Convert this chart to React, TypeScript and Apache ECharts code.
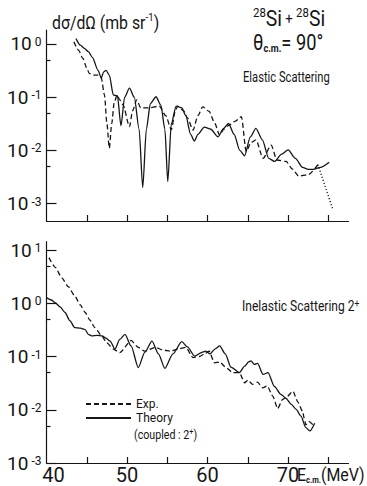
import React, { useEffect, useRef } from "react";
import * as echarts from "echarts";

// ---------- Data (E_cm in MeV, dσ/dΩ in mb/sr) ----------
const elasticTheoryE = [43.66, 44.2, 44.7, 45.2, 45.7, 46.4, 46.8, 47.1, 47.4, 47.8, 48.3, 48.8, 49.25, 49.7, 50.3, 50.9, 51.5, 51.95, 52.4, 52.9, 53.6, 54.2, 54.7, 55.06, 55.5, 56.1, 56.8, 57.3, 57.9, 58.36, 58.8, 59.6, 60.4, 61.3, 62.0, 62.6, 63.3, 64.0, 64.6, 65.3, 66.0, 66.8, 67.6, 68.3, 69.2, 70.0, 70.9, 71.8, 72.5, 73.1, 74.0, 75.1];
const elasticTheory = [1.26, 0.95, 0.83, 0.72, 0.56, 0.32, 0.23, 0.3, 0.32, 0.26, 0.11, 0.107, 0.029, 0.1, 0.148, 0.1, 0.025, 0.002, 0.025, 0.076, 0.102, 0.071, 0.025, 0.0026, 0.032, 0.068, 0.063, 0.045, 0.02, 0.015, 0.02, 0.0275, 0.025, 0.018, 0.026, 0.032, 0.02, 0.01, 0.0079, 0.0178, 0.026, 0.0158, 0.0071, 0.0062, 0.0085, 0.0102, 0.0071, 0.0048, 0.0044, 0.0044, 0.0048, 0.006];

const elasticExpE = [43.4, 44.0, 44.5, 45.0, 45.3, 45.8, 46.4, 46.8, 47.2, 47.5, 47.8, 48.1, 48.4, 48.76, 49.1, 49.5, 50.3, 50.7, 51.2, 51.7, 52.8, 54.0, 54.8, 55.5, 56.0, 56.3, 57.0, 57.5, 58.2, 58.8, 59.4, 60.2, 60.8, 61.5, 62.0, 62.7, 63.4, 64.2, 64.8, 65.4, 66.0, 66.9, 67.9, 68.6, 69.75, 70.5, 71.3, 72.5, 73.7];
const elasticExp = [1.1, 0.76, 0.54, 0.355, 0.28, 0.26, 0.26, 0.23, 0.11, 0.032, 0.011, 0.032, 0.078, 0.11, 0.089, 0.072, 0.028, 0.056, 0.089, 0.063, 0.063, 0.068, 0.045, 0.0245, 0.056, 0.068, 0.056, 0.041, 0.024, 0.045, 0.066, 0.054, 0.035, 0.0195, 0.025, 0.03, 0.035, 0.043, 0.0095, 0.014, 0.0158, 0.0071, 0.0126, 0.0066, 0.0062, 0.0045, 0.0033, 0.0035, 0.0054];

const elasticExpTailE = [73.7, 75.55];
const elasticExpTail = [0.0054, 0.00078];

const inelTheoryE = [40.0, 40.6, 41.05, 41.7, 42.3, 42.9, 43.5, 44.2, 44.8, 45.2, 45.6, 46.3, 46.9, 47.4, 47.9, 48.5, 49.1, 49.75, 50.5, 51.4, 52.2, 53.1, 53.9, 54.7, 55.7, 56.8, 57.5, 58.4, 59.3, 59.8, 60.3, 61.0, 61.5, 62.2, 62.9, 63.95, 64.6, 65.1, 65.4, 65.8, 66.2, 66.9, 67.5, 68.3, 69.1, 69.7, 70.4, 71.0, 71.6, 72.2, 72.7, 73.3];
const inelTheory = [1.28, 1.15, 1.03, 0.85, 0.67, 0.47, 0.35, 0.34, 0.32, 0.26, 0.245, 0.25, 0.245, 0.22, 0.195, 0.138, 0.21, 0.26, 0.158, 0.062, 0.12, 0.195, 0.112, 0.06, 0.112, 0.19, 0.151, 0.102, 0.12, 0.126, 0.112, 0.141, 0.158, 0.112, 0.063, 0.05, 0.066, 0.079, 0.083, 0.071, 0.074, 0.046, 0.05, 0.0275, 0.0195, 0.0166, 0.0126, 0.0102, 0.0076, 0.0046, 0.004, 0.0056];

const inelExpE = [40.3, 41.1, 41.9, 42.7, 43.5, 44.2, 44.8, 45.4, 46.0, 46.8, 47.5, 48.3, 49.1, 50.5, 51.4, 52.2, 53.5, 54.5, 55.5, 56.4, 57.3, 58.2, 59.0, 59.6, 60.2, 60.85, 61.5, 62.3, 63.1, 63.95, 64.6, 65.0, 65.6, 66.2, 66.85, 67.4, 68.1, 68.7, 69.3, 69.9, 70.6, 71.2, 71.8, 72.0, 72.2, 72.6, 73.1];
const inelExp = [7.2, 4.7, 3.0, 2.05, 1.38, 0.93, 0.67, 0.48, 0.35, 0.25, 0.18, 0.138, 0.118, 0.2, 0.148, 0.126, 0.148, 0.132, 0.126, 0.14, 0.148, 0.095, 0.1, 0.112, 0.126, 0.076, 0.079, 0.062, 0.05, 0.05, 0.032, 0.036, 0.03, 0.033, 0.0257, 0.028, 0.018, 0.0105, 0.0155, 0.0178, 0.0224, 0.014, 0.0093, 0.0069, 0.0052, 0.006, 0.0052];

const xTickValues = [45, 50, 55, 60, 65, 70, 75];
const xLabelValues = [40, 50, 60, 70];
const topMajorExp = [-3, -2, -1, 0];
const topMinorVals = [0.5, 0.05, 0.005];
const botMajorExp = [-3, -2, -1, 0, 1];
const botMinorVals = [5, 0.5, 0.05, 0.005];

const FONT = 'Roboto, "Liberation Sans", "DejaVu Sans", sans-serif';
const INK = "#151515";

const toPts = (xs: number[], ys: number[]) => xs.map((x, i) => [x, Math.log10(ys[i])]);

function makeX(gridIndex: number, labels: boolean) {
  return {
    type: "value",
    gridIndex,
    min: 40,
    max: 77.5,
    axisLine: { show: true, onZero: false, lineStyle: { color: INK, width: 1.2 } },
    axisTick: { show: true, inside: true, length: 6, customValues: xTickValues, lineStyle: { color: INK, width: 1.2 } },
    axisLabel: labels
      ? {
          show: true,
          customValues: xLabelValues,
          margin: 5,
          color: INK,
          fontFamily: FONT,
          fontSize: 20,
          lineHeight: 14,
          formatter: (v: number) => (v === 40 ? "{f|40}" : String(v)),
          rich: { f: { fontFamily: FONT, fontSize: 20, lineHeight: 14, color: INK, padding: [0, 0, 0, 14] } },
        }
      : { show: false },
    splitLine: { show: false },
  };
}

function makeYMajor(gridIndex: number, min: number, max: number, exps: number[]) {
  return {
    type: "value",
    gridIndex,
    min,
    max,
    axisLine: { show: true, onZero: false, lineStyle: { color: INK, width: 1.2 } },
    axisTick: { show: true, inside: true, length: 10, customValues: exps, lineStyle: { color: INK, width: 1.2 } },
    axisLabel: {
      show: true,
      customValues: exps,
      margin: 5,
      formatter: (v: number) => `{b|10}{s|${Math.round(v)}}`,
      rich: {
        b: { fontFamily: FONT, fontSize: 19, color: INK, lineHeight: 16 },
        s: { fontFamily: FONT, fontSize: 12, color: INK, lineHeight: 6, verticalAlign: "top", padding: [0, 0, 0, 3] },
      },
    },
    splitLine: { show: false },
  };
}

function makeYMinor(gridIndex: number, min: number, max: number, vals: number[]) {
  return {
    type: "value",
    gridIndex,
    min,
    max,
    position: "left",
    axisLine: { show: false },
    axisTick: { show: true, inside: true, length: 4, customValues: vals.map((v) => Math.log10(v)), lineStyle: { color: INK, width: 1.2 } },
    axisLabel: { show: false },
    splitLine: { show: false },
  };
}

function lineSeries(name: string, x: number, y: number, data: number[][], type: any, smooth: number) {
  return {
    name,
    type: "line",
    xAxisIndex: x,
    yAxisIndex: y,
    data,
    symbol: "none",
    showSymbol: false,
    smooth,
    smoothMonotone: "x",
    lineStyle: { color: INK, width: 1.3, type },
    itemStyle: { color: INK },
    z: 3,
  };
}

function label(x: number, y: number, text: string, rich: any, scaleX: number) {
  return {
    type: "text",
    x,
    y,
    scaleX,
    style: { text, rich, verticalAlign: "top", align: "left", fill: INK },
  };
}

export default function App() {
  const ref = useRef<HTMLDivElement>(null);
  useEffect(() => {
    if (!ref.current) return;
    const chart = echarts.init(ref.current, undefined, { renderer: "svg" });
    const option: any = {
      animation: false,
      backgroundColor: "#ffffff",
      textStyle: { fontFamily: FONT, color: INK },
      grid: [
        { left: 46.5, top: 30, width: 302, height: 191, containLabel: false },
        { left: 46.5, top: 241.7, width: 302, height: 221.3, containLabel: false },
      ],
      xAxis: [makeX(0, false), makeX(1, true)],
      yAxis: [
        makeYMajor(0, -3.327, 0.263, topMajorExp),
        makeYMinor(0, -3.327, 0.263, topMinorVals),
        makeYMajor(1, -3, 1.156, botMajorExp),
        makeYMinor(1, -3, 1.156, botMinorVals),
      ],
      legend: {
        data: ["Exp.", "Theory"],
        orient: "vertical",
        left: 85,
        top: 398,
        itemWidth: 45,
        itemHeight: 12,
        itemGap: 2,
        padding: 0,
        selectedMode: false,
        itemStyle: { opacity: 0 },
        textStyle: { fontFamily: FONT, fontSize: 12, lineHeight: 12, color: INK },
      },
      graphic: [
        label(52, 12, "{a|dσ/dΩ (mb sr}{s|-1}{a|)}", {
          a: { fontFamily: FONT, fontSize: 18, fill: INK, lineHeight: 21 },
          s: { fontFamily: FONT, fontSize: 11, fill: INK, verticalAlign: "top", lineHeight: 11 },
        }, 0.88),
        label(253, 6, "{s|28}{a|Si}{p| + }{s|28}{a|Si}", {
          a: { fontFamily: FONT, fontSize: 22, fill: INK, lineHeight: 25 },
          p: { fontFamily: FONT, fontSize: 15, fill: INK, lineHeight: 25 },
          s: { fontFamily: FONT, fontSize: 13, fill: INK, verticalAlign: "top", lineHeight: 13 },
        }, 0.88),
        label(253, 31, "{a|θ}{c|c.m.}{a|= 90°}", {
          a: { fontFamily: FONT, fontSize: 22, fill: INK, lineHeight: 23 },
          c: { fontFamily: FONT, fontSize: 11, fontWeight: "bold", fill: INK, verticalAlign: "bottom", lineHeight: 11 },
        }, 0.83),
        label(243, 69, "{a|Elastic Scattering}", {
          a: { fontFamily: FONT, fontSize: 14, fill: INK, lineHeight: 16 },
        }, 0.8),
        label(242, 298, "{a|Inelastic Scattering 2}{s|+}", {
          a: { fontFamily: FONT, fontSize: 14, fill: INK, lineHeight: 17 },
          s: { fontFamily: FONT, fontSize: 10, fill: INK, verticalAlign: "top", lineHeight: 10 },
        }, 0.86),
        label(134, 427, "{a|(coupled : 2}{s|+}{a|)}", {
          a: { fontFamily: FONT, fontSize: 13, fill: INK, lineHeight: 15 },
          s: { fontFamily: FONT, fontSize: 9, fill: INK, verticalAlign: "top", lineHeight: 9 },
        }, 0.82),
        label(297, 466, "{a|E}{c|c.m.}{a|(MeV)}", {
          a: { fontFamily: FONT, fontSize: 19, fill: INK, lineHeight: 18 },
          c: { fontFamily: FONT, fontSize: 9, fontWeight: "bold", fill: INK, verticalAlign: "bottom", lineHeight: 9 },
        }, 0.84),
      ],
      series: [
        lineSeries("Exp.", 0, 0, toPts(elasticExpE, elasticExp), [5, 3], 0.25),
        lineSeries("Theory", 0, 0, toPts(elasticTheoryE, elasticTheory), "solid", 0.25),
        lineSeries("Exp. (extrapolated)", 0, 0, toPts(elasticExpTailE, elasticExpTail), [1.2, 2], 0),
        lineSeries("Exp.", 1, 2, toPts(inelExpE, inelExp), [5, 3], 0.2),
        lineSeries("Theory", 1, 2, toPts(inelTheoryE, inelTheory), "solid", 0.25),
      ],
    };
    chart.setOption(option);
    return () => chart.dispose();
  }, []);
  return (
    <div
      ref={ref}
      style={{ position: "fixed", left: 0, top: 0, width: 367, height: 486, background: "#fff" }}
    />
  );
}
